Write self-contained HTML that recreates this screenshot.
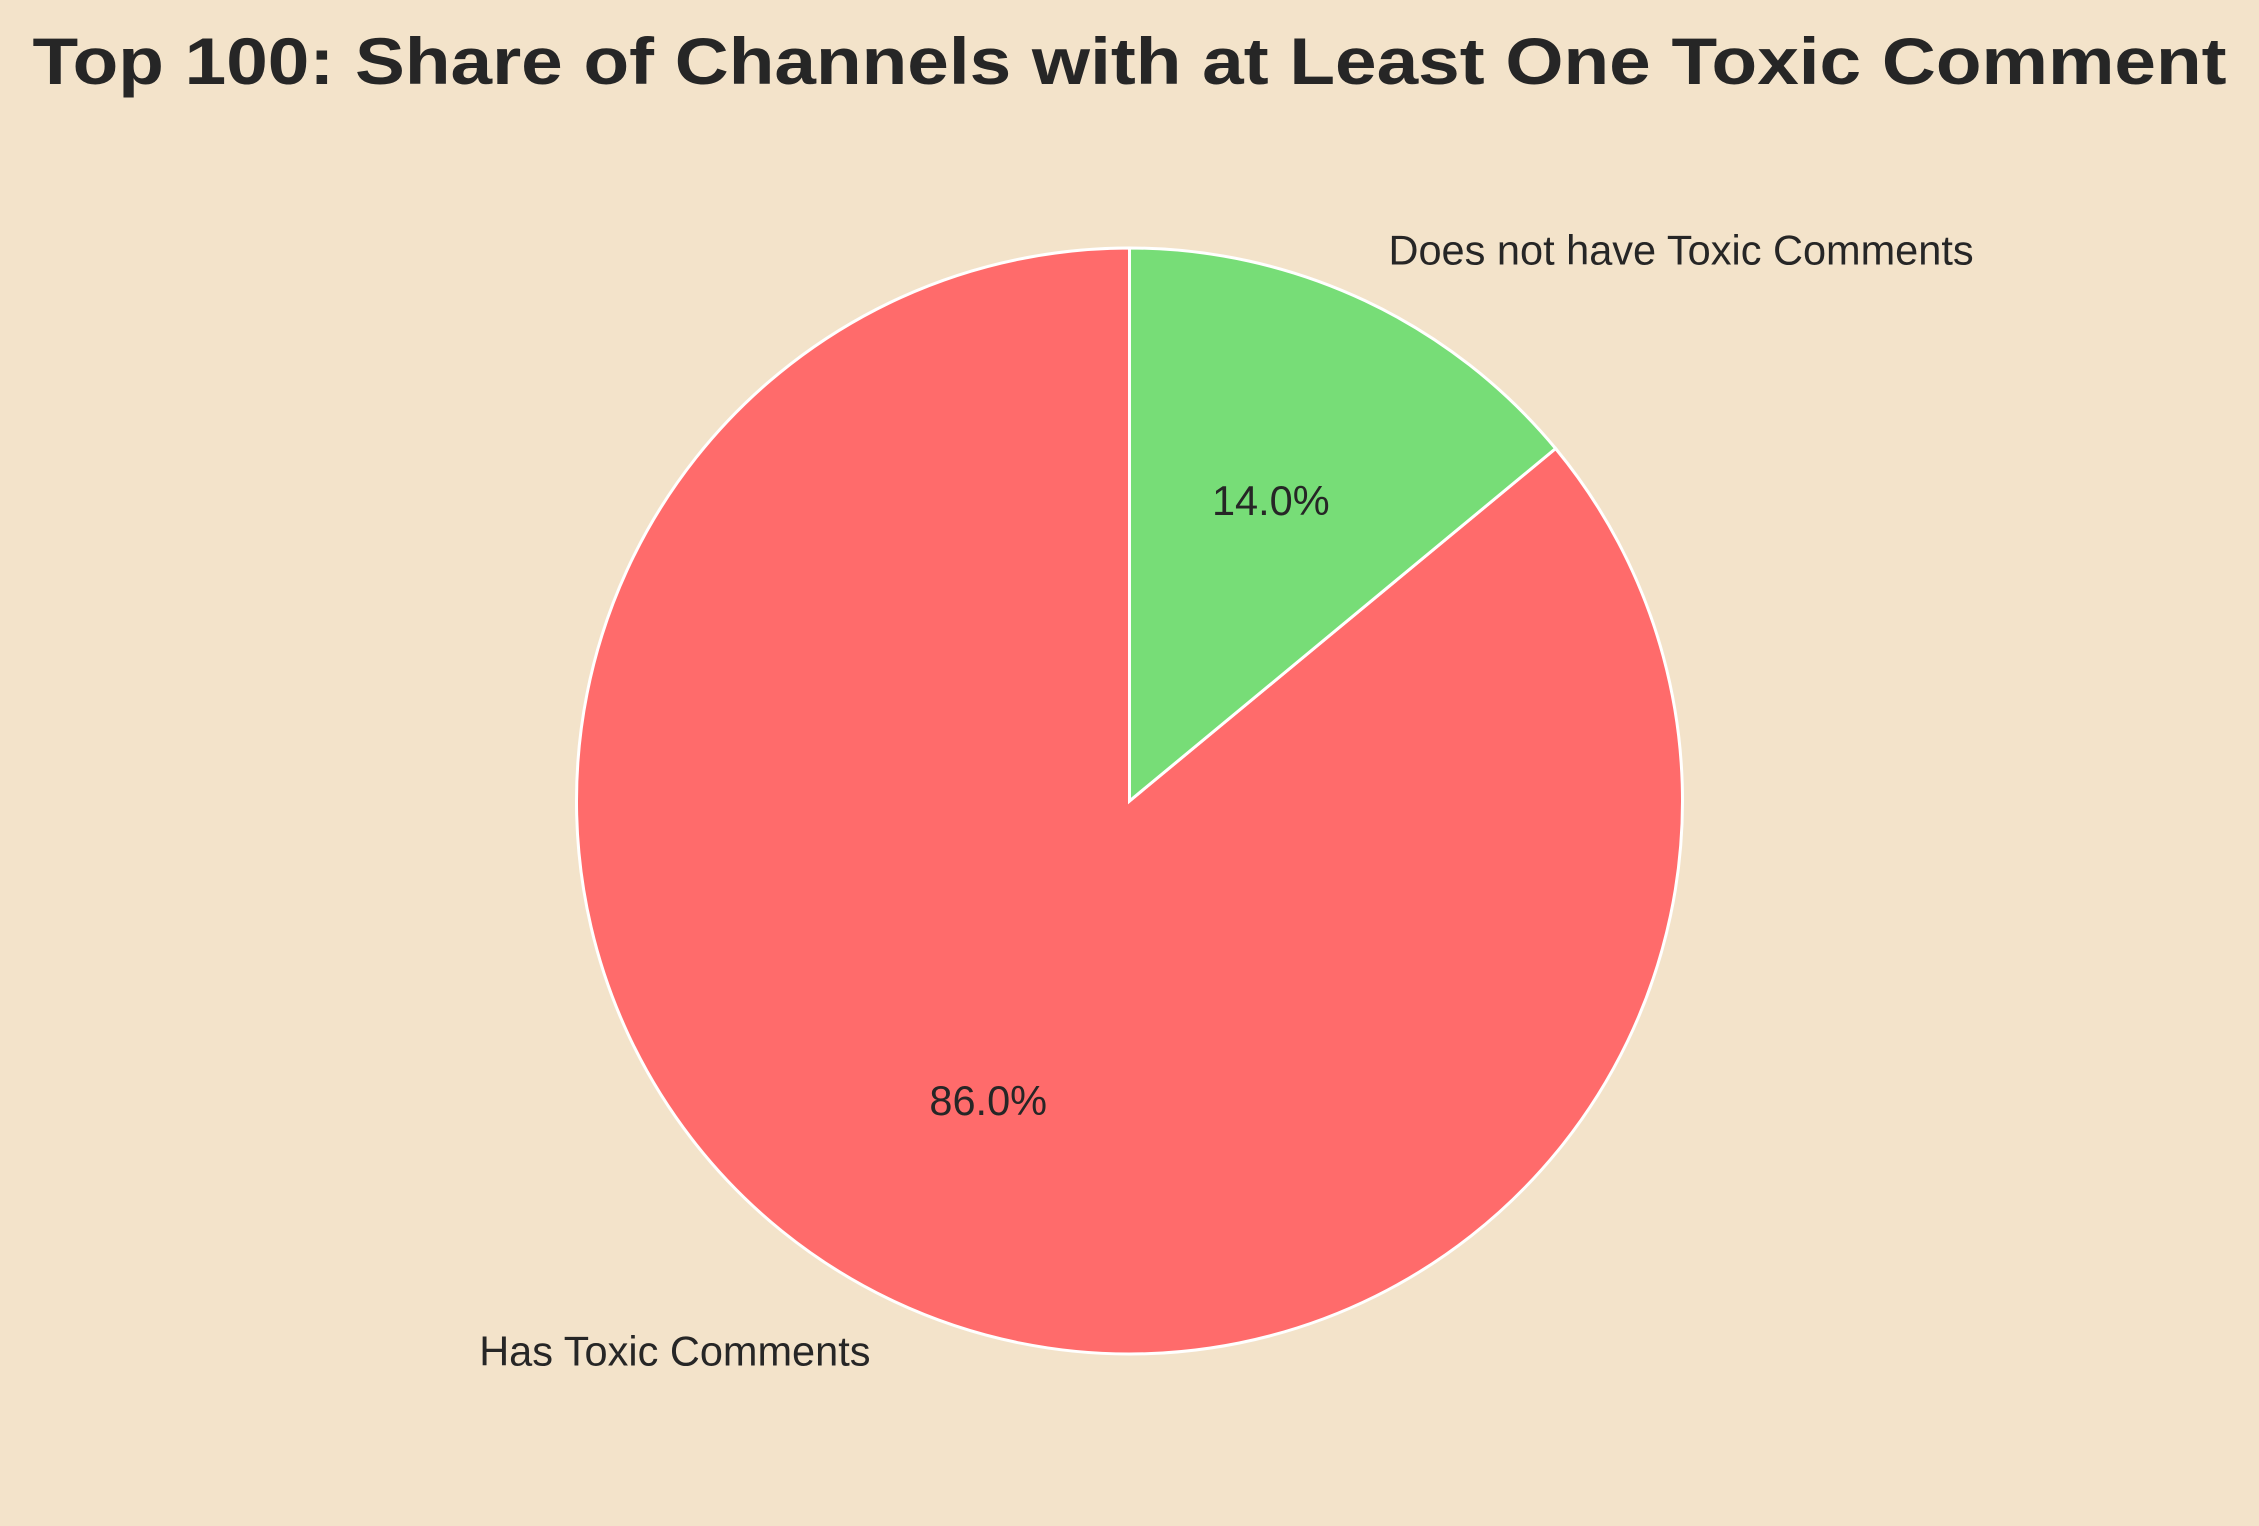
<!DOCTYPE html>
<html><head><meta charset="utf-8"><style>
html,body{margin:0;padding:0;background:#f3e3ca;}
svg{display:block;font-family:"Liberation Sans",Arial,sans-serif;}
</style></head><body>
<svg id="chart" width="2259" height="1526" viewBox="0 0 2259 1526" xmlns="http://www.w3.org/2000/svg">
<rect width="2259" height="1526" fill="#f3e3ca"/>
<text x="1129.5" y="84" text-anchor="middle" font-size="66" font-weight="bold" fill="#262626" textLength="2194" lengthAdjust="spacingAndGlyphs">Top 100: Share of Channels with at Least One Toxic Comment</text>
<g id="slices"></g>
</svg>
<script>
const categories = ["Has Toxic Comments", "Does not have Toxic Comments"];
const values = [86, 14];
const colors = ["#ff6b6b", "#77dd77"];

const cx = 1129.5, cy = 801, r = 553;
const g = document.getElementById('slices');
const NS = "http://www.w3.org/2000/svg";
const total = values.reduce((a,b)=>a+b,0);
let start = 90;
function pt(deg, rad){ const a = deg*Math.PI/180; return [cx + rad*Math.cos(a), cy - rad*Math.sin(a)]; }
values.forEach((v,i)=>{
  const sweep = v/total*360;
  const end = start + sweep;
  const p1 = pt(start, r), p2 = pt(end, r);
  const large = sweep > 180 ? 1 : 0;
  const path = document.createElementNS(NS,'path');
  path.setAttribute('d', `M${cx},${cy} L${p1[0]},${p1[1]} A${r},${r} 0 ${large} 0 ${p2[0]},${p2[1]} Z`);
  path.setAttribute('fill', colors[i]);
  path.setAttribute('stroke', '#ffffff');
  path.setAttribute('stroke-width', '3');
  
  
  g.appendChild(path);
  const mid = start + sweep/2;
  const pp = pt(mid, 0.6*r);
  const pct = document.createElementNS(NS,'text');
  pct.setAttribute('x', pp[0]); pct.setAttribute('y', pp[1]+14);
  pct.setAttribute('text-anchor','middle');
  pct.setAttribute('font-size','41.5'); pct.setAttribute('fill','#262626');
  pct.textContent = (v/total*100).toFixed(1) + '%';
  
  
  g.appendChild(pct);
  const lp = pt(mid, 1.1*r);
  const lab = document.createElementNS(NS,'text');
  lab.setAttribute('x', lp[0]); lab.setAttribute('y', lp[1]+14);
  lab.setAttribute('text-anchor', Math.cos(mid*Math.PI/180) >= 0 ? 'start' : 'end');
  lab.setAttribute('font-size','41.5'); lab.setAttribute('fill','#262626');
  lab.textContent = categories[i];
  
  
  g.appendChild(lab);
  start = end;
});
</script>
</body></html>
